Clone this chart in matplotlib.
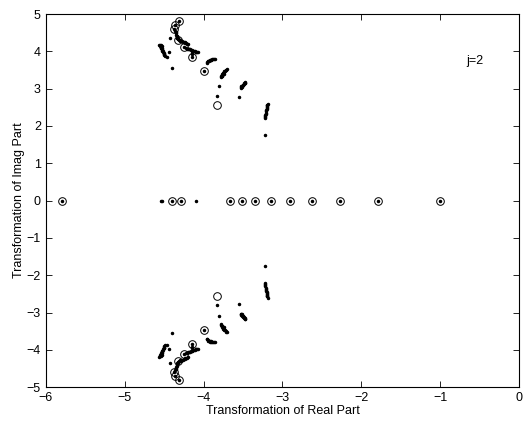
import numpy as np
import matplotlib
matplotlib.use("Agg")
import matplotlib.pyplot as plt

plt.rcParams['font.family'] = ['Liberation Sans', 'DejaVu Sans']

# points on the real axis (circles, with dots on top)
real_circles = [-5.79, -4.40, -4.29, -3.66, -3.51, -3.35, -3.14, -2.90, -2.63, -2.27, -1.79, -1.00]
real_dots = [-5.79, -4.54, -4.52, -4.40, -4.29, -4.09, -3.66, -3.51, -3.35, -3.14, -2.90, -2.63, -2.27, -1.79, -1.00]

# upper branch circles (lower branch is the conjugate)
circ_re = [-4.31, -4.36, -4.37, -4.32, -4.25, -4.15, -4.00, -3.83]
circ_im = [4.82, 4.71, 4.59, 4.30, 4.11, 3.84, 3.47, 2.56]

# upper branch dots
dot_re = [-4.56, -4.555, -4.55, -4.545, -4.54, -4.535, -4.53, -4.525, -4.52, -4.515, -4.51, -4.505,
          -4.50, -4.50, -4.495, -4.49, -4.54, -4.53, -4.52,
          -4.44, -4.46, -4.40, -4.42,
          -4.31, -4.36, -4.37, -4.36, -4.355, -4.35, -4.345, -4.34, -4.335, -4.33, -4.325, -4.32,
          -4.31, -4.30, -4.29, -4.28, -4.27, -4.26, -4.25, -4.24, -4.23, -4.22, -4.21, -4.20,
          -4.34, -4.32, -4.30,
          -4.25, -4.22, -4.21, -4.20, -4.19, -4.18, -4.17, -4.16, -4.15, -4.14, -4.13, -4.12,
          -4.11, -4.10, -4.09, -4.08, -4.07, -4.15, -4.14,
          -4.15, -3.96, -3.95, -3.94, -3.93, -3.92, -3.91, -3.90, -3.89, -3.88, -3.87, -3.86,
          -3.94, -3.92,
          -4.00, -3.78, -3.775, -3.77, -3.765, -3.76, -3.755, -3.75, -3.745, -3.74, -3.73,
          -3.72, -3.71, -3.70, -3.76, -3.74, -3.81, -3.83,
          -3.53, -3.525, -3.52, -3.51, -3.505, -3.50, -3.49, -3.485, -3.48, -3.475, -3.47,
          -3.51, -3.50, -3.55,
          -3.225, -3.22, -3.218, -3.215, -3.212, -3.21, -3.208, -3.205, -3.202, -3.20, -3.198,
          -3.195, -3.192, -3.19, -3.188, -3.22]
dot_im = [4.18, 4.16, 4.14, 4.12, 4.10, 4.08, 4.06, 4.04, 4.02, 4.00, 3.98, 3.96,
          3.94, 3.92, 3.90, 3.88, 4.16, 4.13, 4.08,
          3.99, 3.86, 3.56, 4.35,
          4.82, 4.71, 4.59, 4.54, 4.51, 4.48, 4.45, 4.42, 4.40, 4.37, 4.35, 4.33,
          4.31, 4.30, 4.29, 4.28, 4.27, 4.26, 4.25, 4.24, 4.23, 4.22, 4.21, 4.20,
          4.36, 4.32, 4.27,
          4.11, 4.08, 4.075, 4.07, 4.06, 4.055, 4.05, 4.04, 4.03, 4.02, 4.01, 4.005,
          4.00, 3.99, 3.985, 3.98, 3.97, 3.95, 3.93,
          3.84, 3.70, 3.72, 3.73, 3.75, 3.76, 3.77, 3.78, 3.79, 3.795, 3.80, 3.80,
          3.75, 3.78,
          3.47, 3.30, 3.33, 3.35, 3.37, 3.39, 3.41, 3.43, 3.45, 3.46, 3.48,
          3.50, 3.51, 3.53, 3.35, 3.40, 3.08, 2.81,
          3.03, 3.05, 3.07, 3.08, 3.10, 3.11, 3.12, 3.14, 3.15, 3.16, 3.17,
          3.05, 3.09, 2.77,
          2.21, 2.24, 2.27, 2.30, 2.33, 2.36, 2.39, 2.42, 2.45, 2.48, 2.51,
          2.53, 2.55, 2.57, 2.60, 1.75]

dot_re = np.array(dot_re)
dot_im = np.array(dot_im)
circ_re = np.array(circ_re)
circ_im = np.array(circ_im)

fig = plt.figure(figsize=(5.25, 4.25), dpi=100)
ax = fig.add_axes([0.087, 0.089, 0.902, 0.878])

ax.plot(np.concatenate([dot_re, dot_re]), np.concatenate([dot_im, -dot_im]),
        'k.', markersize=3)
ax.plot(real_dots, np.zeros(len(real_dots)), 'k.', markersize=3)
ax.plot(np.concatenate([circ_re, circ_re]), np.concatenate([circ_im, -circ_im]),
        'o', mfc='none', mec='k', markersize=5.5, mew=0.7)
ax.plot(real_circles, np.zeros(len(real_circles)),
        'o', mfc='none', mec='k', markersize=5.5, mew=0.7)

ax.set_xlim(-6, 0)
ax.set_ylim(-5, 5)
ax.set_xticks(range(-6, 1))
ax.set_yticks(range(-5, 6))
ax.tick_params(direction='in', top=True, right=True, labelsize=9, length=4, width=0.6)
for s in ax.spines.values():
    s.set_linewidth(0.8)
ax.set_xlabel('Transformation of Real Part', fontsize=9, labelpad=1)
ax.set_ylabel('Transformation of Imag Part', fontsize=9, labelpad=1)
ax.text(-0.67, 3.75, 'j=2', fontsize=9, va='center')

fig.savefig('out.png', dpi=100)
